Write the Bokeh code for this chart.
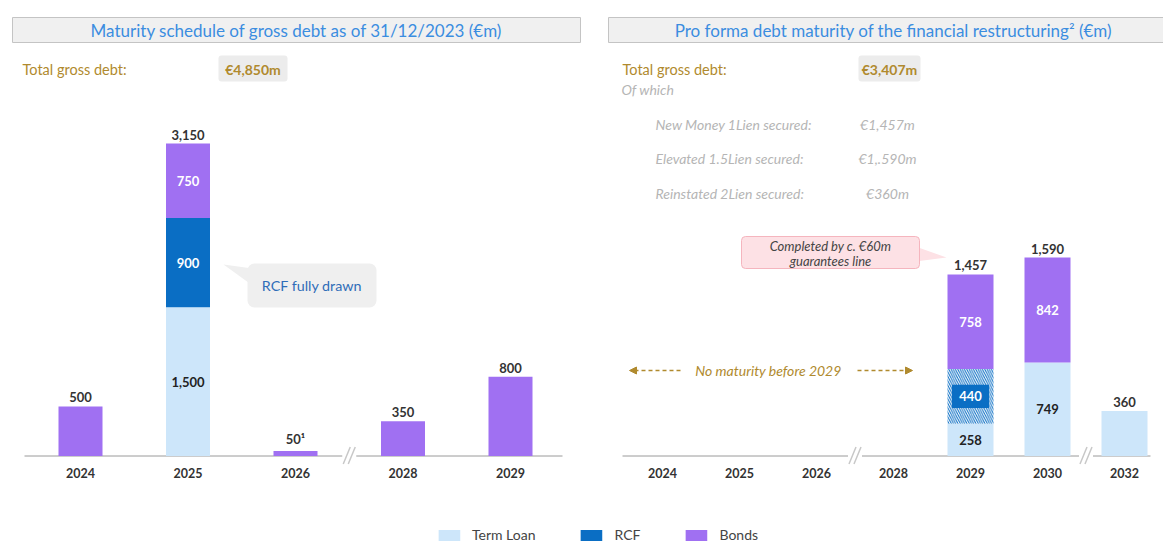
from bokeh.plotting import figure
from bokeh.models import (Range1d, FixedTicker, BoxAnnotation, Label, Legend,
                          LegendItem, Arrow, NormalHead)
from bokeh.layouts import row, column
from bokeh.embed import file_html
from bokeh.resources import INLINE
from bokeh.core.properties import value

FONT = "Lato"
TL_COLOR = "#cde6fa"
RCF_COLOR = "#0a6ec4"
BOND_COLOR = "#a070f2"
GOLD = "#b08a2e"
GREY_TXT = "#b5b5b5"
DARK = "#333333"

# ---------------- data ----------------
left_years = ["2024", "2025", "2026", "2028", "2029"]
left_term_loan = [0, 1500, 0, 0, 0]
left_rcf = [0, 900, 0, 0, 0]
left_bonds = [500, 750, 50, 350, 800]
left_totals = ["500", "3,150", "50¹", "350", "800"]

right_years = ["2024", "2025", "2026", "2028", "2029", "2030", "2032"]
right_term_loan = [0, 0, 0, 0, 258, 749, 360]
right_rcf = [0, 0, 0, 0, 440, 0, 0]
right_bonds = [0, 0, 0, 0, 758, 842, 0]
right_totals = ["", "", "", "", "1,457", "1,590", "360"]

left_title = "Maturity schedule of gross debt as of 31/12/2023 (€m)"
right_title = "Pro forma debt maturity of the financial restructuring² (€m)"
left_total_text = "€4,850m"
right_total_text = "€3,407m"
of_which_labels = ["New Money 1Lien secured:", "Elevated 1.5Lien secured:", "Reinstated 2Lien secured:"]
of_which_values = ["€1,457m", "€1,.590m", "€360m"]
legend_labels = ["Term Loan", "RCF", "Bonds"]

MAIN_H = 515
LEG_H = 28
BASE = 455.5      # y of the baseline
FRAME_BOTTOM = 466


def build(years, term, rcf, bonds, totals, fig_left, fig_w, cat0, step, ppu,
          bar_px, axis_from, axis_to, hatch_rcf):
    X = lambda px: (px - cat0) / step
    Y = lambda py: (BASE - py) / ppu
    p = figure(width=fig_w, height=MAIN_H, output_backend="svg", toolbar_location=None,
               x_range=Range1d(X(fig_left), X(fig_left + fig_w)),
               y_range=Range1d(Y(FRAME_BOTTOM), Y(0)),
               y_axis_location=None,
               min_border_left=0, min_border_right=0, min_border_top=0,
               min_border_bottom=MAIN_H - FRAME_BOTTOM)
    p.outline_line_color = None
    p.grid.grid_line_color = None
    p.background_fill_color = "white"
    p.border_fill_color = "white"

    n = len(years)
    xs = list(range(n))
    ax = p.xaxis[0]
    ax.ticker = FixedTicker(ticks=xs)
    ax.major_label_overrides = {i: y for i, y in enumerate(years)}
    ax.axis_line_color = None
    ax.major_tick_line_color = None
    ax.minor_tick_line_color = None
    ax.major_tick_out = 0
    ax.major_tick_in = 0
    ax.major_label_standoff = 1
    ax.major_label_text_font = FONT
    ax.major_label_text_font_size = "12.5px"
    ax.major_label_text_font_style = "bold"
    ax.major_label_text_color = DARK

    bw = bar_px / step
    rcf_bottom = list(term)
    rcf_top = [t + r for t, r in zip(term, rcf)]
    bond_top = [t + b for t, b in zip(rcf_top, bonds)]

    # baseline
    p.segment(x0=[X(axis_from)], y0=[0], x1=[X(axis_to)], y1=[0], line_color="#9a9a9a", line_width=1)

    p.vbar(x=xs, bottom=0, top=term, width=bw, fill_color=TL_COLOR, line_color=None)
    if hatch_rcf:
        p.vbar(x=xs, bottom=rcf_bottom, top=rcf_top, width=bw, fill_color="white",
               hatch_pattern="\\", hatch_color=RCF_COLOR, hatch_scale=4.5, hatch_weight=1,
               line_color=None)
        xi = [i for i in xs if rcf[i] > 0]
        p.rect(x=xi, y=[rcf_bottom[i] + rcf[i] / 2 for i in xi], width=37 / step,
               height=[rcf[i] * 0.42 for i in xi], fill_color=RCF_COLOR, line_color=None)
    else:
        p.vbar(x=xs, bottom=rcf_bottom, top=rcf_top, width=bw, fill_color=RCF_COLOR, line_color=None)
    p.vbar(x=xs, bottom=rcf_top, top=bond_top, width=bw, fill_color=BOND_COLOR, line_color=None)

    # segment labels for stacked bars
    lx, ly, lt, lc = [], [], [], []
    for i in xs:
        segs = [(0, term[i], "#222222"), (rcf_bottom[i], rcf[i], "white"), (rcf_top[i], bonds[i], "white")]
        nz = [s for s in segs if s[1] > 0]
        if len(nz) > 1:
            for b, v, c in nz:
                lx.append(i); ly.append(b + v / 2); lt.append(f"{v:,}"); lc.append(c)
    p.text(x=lx, y=ly, text=lt, text_color=lc, text_font=value(FONT), text_font_size="13px",
           text_font_style="bold", text_align="center", text_baseline="middle")

    # totals
    tx = [i for i in xs if totals[i]]
    p.text(x=tx, y=[bond_top[i] for i in tx], text=[totals[i] for i in tx], text_color=DARK,
           text_font=value(FONT), text_font_size="13px", text_font_style="bold",
           text_align="center", text_baseline="bottom", y_offset=-4)

    # axis breaks
    for i in range(n - 1):
        if int(years[i + 1]) - int(years[i]) > 1:
            c = i + 0.5
            p.segment(x0=[c - 7 / step], y0=[0], x1=[c + 7 / step], y1=[0], line_color="white", line_width=3)
            for k in (0, 1):
                p.segment(x0=[c + (-6 + 5 * k) / step], y0=[-8 / ppu], x1=[c + (1 + 5 * k) / step],
                          y1=[9 / ppu], line_color="#c8c8c8", line_width=1.5)
    return p, X, Y


def title_bar(p, X, Y, x0, x1, text, cx):
    p.add_layout(BoxAnnotation(left=X(x0), right=X(x1), top=Y(17), bottom=Y(42),
                               fill_color="#f0f0f0", fill_alpha=1, line_color="#c4c4c4",
                               line_alpha=1, line_width=1))
    p.add_layout(Label(x=X(cx), y=Y(29.5), text=text, text_font=FONT, text_font_size="17px",
                       text_color="#3b8de0", text_align="center", text_baseline="middle"))


def total_box(p, X, Y, tx, bx0, bx1, text):
    p.add_layout(Label(x=X(tx), y=Y(69), text="Total gross debt:", text_font=FONT,
                       text_font_size="14.5px", text_color=GOLD, text_baseline="middle"))
    p.add_layout(BoxAnnotation(left=X(bx0), right=X(bx1), top=Y(55), bottom=Y(81),
                               fill_color="#ececec", fill_alpha=1, line_color=None,
                               border_radius=3))
    p.add_layout(Label(x=X((bx0 + bx1) / 2), y=Y(68.5), text=text, text_font=FONT,
                       text_font_size="14px", text_font_style="bold", text_color=GOLD,
                       text_align="center", text_baseline="middle"))


# ---------------- left panel ----------------
pl, XL, YL = build(left_years, left_term_loan, left_rcf, left_bonds, left_totals,
                   fig_left=0, fig_w=598, cat0=80, step=107.5, ppu=0.0992, bar_px=44,
                   axis_from=24, axis_to=562, hatch_rcf=False)
title_bar(pl, XL, YL, 12, 580, left_title, 296)
total_box(pl, XL, YL, 22, 218, 287, left_total_text)
# callout
pl.patch(x=[XL(223), XL(252), XL(252)], y=[YL(264), YL(268), YL(285)], fill_color="#efefef", line_color=None)
pl.add_layout(BoxAnnotation(left=XL(247), right=XL(376), top=YL(263), bottom=YL(307),
                            fill_color="#efefef", fill_alpha=1, line_color=None, border_radius=7))
pl.add_layout(Label(x=XL(311.5), y=YL(285), text="RCF fully drawn", text_font=FONT,
                    text_font_size="14.3px", text_color="#2f6db8", text_align="center",
                    text_baseline="middle"))

# ---------------- right panel ----------------
pr, XR, YR = build(right_years, right_term_loan, right_rcf, right_bonds, right_totals,
                   fig_left=598, fig_w=565, cat0=662, step=77, ppu=0.1247, bar_px=46,
                   axis_from=622, axis_to=1150, hatch_rcf=True)
title_bar(pr, XR, YR, 608, 1175, right_title, 893)
total_box(pr, XR, YR, 622, 858, 920, right_total_text)
pr.add_layout(Label(x=XR(621), y=YR(89), text="Of which", text_font=FONT, text_font_size="14px",
                    text_font_style="italic", text_color=GREY_TXT, text_baseline="middle"))
for k, (lab, val) in enumerate(zip(of_which_labels, of_which_values)):
    yy = [123.5, 158, 192.5][k]
    pr.add_layout(Label(x=XR(655), y=YR(yy), text=lab, text_font=FONT, text_font_size="14px",
                        text_font_style="italic", text_color=GREY_TXT, text_baseline="middle"))
    pr.add_layout(Label(x=XR(887), y=YR(yy), text=val, text_font=FONT, text_font_size="14px",
                        text_font_style="italic", text_color=GREY_TXT, text_baseline="middle",
                        text_align="center"))
# pink callout
pr.patch(x=[XR(915), XR(946), XR(915)], y=[YR(246), YR(257), YR(261)], fill_color="#fde1e5",
         line_color=None)
pr.add_layout(BoxAnnotation(left=XR(741), right=XR(919), top=YR(236), bottom=YR(268),
                            fill_color="#fde1e5", fill_alpha=1, line_color="#f5b5be",
                            line_alpha=1, line_width=1, border_radius=4))
pr.add_layout(Label(x=XR(830), y=YR(245), text="Completed by c. €60m", text_font=FONT,
                    text_font_size="13px", text_font_style="italic", text_color="#444444",
                    text_align="center", text_baseline="middle"))
pr.add_layout(Label(x=XR(830), y=YR(260), text="guarantees line", text_font=FONT,
                    text_font_size="13px", text_font_style="italic", text_color="#444444",
                    text_align="center", text_baseline="middle"))
# no maturity arrow
pr.add_layout(Label(x=XR(768), y=YR(370), text="No maturity before 2029", text_font=FONT,
                    text_font_size="14px", text_font_style="italic", text_color=GOLD,
                    text_align="center", text_baseline="middle"))
pr.add_layout(Arrow(end=NormalHead(size=7, fill_color=GOLD, line_color=GOLD),
                    x_start=XR(680), y_start=YR(370), x_end=XR(629), y_end=YR(370),
                    line_color=GOLD, line_width=1.5, line_dash="4 3"))
pr.add_layout(Arrow(end=NormalHead(size=7, fill_color=GOLD, line_color=GOLD),
                    x_start=XR(857), y_start=YR(370), x_end=XR(912), y_end=YR(370),
                    line_color=GOLD, line_width=1.5, line_dash="4 3"))

# ---------------- legend ----------------
lg = figure(width=1163, height=LEG_H, output_backend="svg", toolbar_location=None,
            x_axis_location=None, y_axis_location=None, x_range=Range1d(0, 1),
            y_range=Range1d(0, 1), min_border_left=30, min_border_right=0,
            min_border_top=0, min_border_bottom=0)
lg.outline_line_color = None
lg.grid.grid_line_color = None
rs = []
for c in (TL_COLOR, RCF_COLOR, BOND_COLOR):
    rs.append(lg.vbar(x=[10], top=[1], width=0.1, fill_color=c, line_color=None))
legend = Legend(items=[LegendItem(label=l, renderers=[r]) for l, r in zip(legend_labels, rs)],
                orientation="horizontal", location="bottom_center", glyph_width=27, glyph_height=14,
                label_standoff=10, spacing=42, padding=0, margin=0, border_line_color=None,
                background_fill_alpha=0, label_text_font=FONT, label_text_font_size="14px",
                label_text_color="#444444")
lg.add_layout(legend)

layout = column(row(pl, pr), lg)
open("out.html", "w").write(file_html(layout, INLINE))
